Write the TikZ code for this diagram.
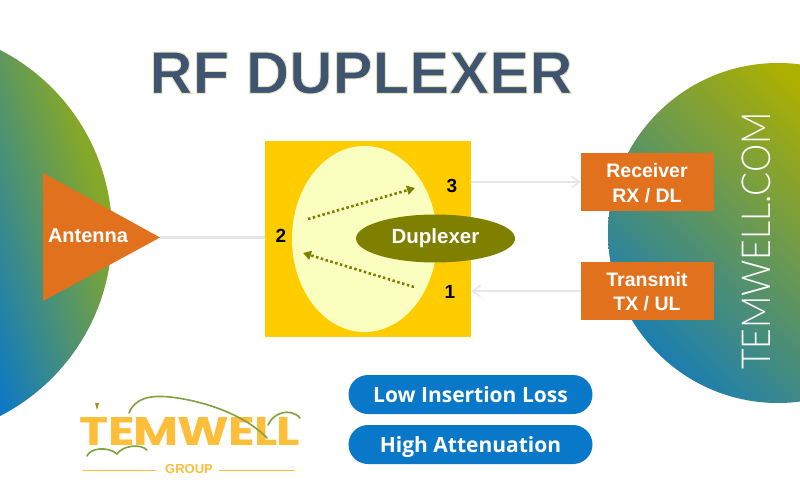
\documentclass[tikz,border=0pt]{standalone}
\usepackage{fontspec}
\setmainfont{Liberation Sans}
\newfontfamily\pillfont{Open Sans}
\newfontfamily\webfont[FakeStretch=0.89]{Lato Light}
\newfontfamily\logofont[LetterSpace=-2]{Poppins}
\usetikzlibrary{arrows.meta,shapes.geometric}
\definecolor{orangebox}{HTML}{E2711D}
\definecolor{squarey}{HTML}{FFCC00}
\definecolor{innere}{HTML}{FAFFC0}
\definecolor{olivee}{HTML}{7F8000}
\definecolor{pillblue}{HTML}{0A78C8}
\definecolor{linegrey}{HTML}{E6E6E6}
\definecolor{titleblue}{HTML}{3F5470}
\definecolor{logoyellow}{HTML}{FDBE3A}
\definecolor{logogreen}{HTML}{7FA23C}
\definecolor{discleft}{HTML}{86A828}
\definecolor{discright}{HTML}{ACB000}
\definecolor{discrightb}{HTML}{1C7EB0}
\pgfdeclarehorizontalshading{leftdisc}{100bp}{color(0bp)=(pillblue); color(54bp)=(pillblue); color(74bp)=(discleft); color(100bp)=(discleft)}
\pgfdeclarehorizontalshading{rightdisc}{100bp}{color(0bp)=(discrightb); color(25bp)=(discrightb); color(67.6bp)=(discright); color(100bp)=(discright)}
\newcommand{\fs}[1]{\fontsize{#1}{#1}\selectfont}
\tikzset{
  orangerect/.style={rectangle,fill=orangebox,minimum width=133pt,minimum height=58pt,inner sep=0pt},
  boxtext/.style={text=white,font=\fs{19.5}\bfseries,align=center},
  porttext/.style={text=black,font=\fs{19}\bfseries,inner sep=0pt},
  pillbox/.style={rectangle,rounded corners=19.5pt,fill=pillblue,minimum width=244pt,minimum height=39pt,inner sep=0pt,text=white,text height=16pt,text depth=1pt,font=\pillfont\fs{21}\bfseries},
  greyline/.style={draw=linegrey,line width=2.2pt},
  greyarrow/.style={greyline,-{Straight Barb[length=8pt,width=11pt,line width=1.5pt]}},
  dotarrow/.style={draw=olivee,line width=2.6pt,dash pattern=on 2.5pt off 2.5pt,-{Triangle[length=8pt,width=9pt]}},
  logoarc/.style={draw=logogreen,line width=1.6pt,line cap=round},
  logoline/.style={draw=logoyellow,line width=0.7pt},
}
\begin{document}
\begin{tikzpicture}[x=1pt,y=-1pt]
\useasboundingbox (0,0) rectangle (800,500);
\fill[white] (0,0) rectangle (800,500);
% big gradient discs
\begin{scope}
  \clip (0,0) rectangle (800,500);
  \begin{scope}
    \clip (-93.5,233) circle[radius=205.5];
    \shade[shading=leftdisc,shading angle=18] (-298.5,28) rectangle (111.5,438);
  \end{scope}
  \begin{scope}
    \clip (778,233) circle[radius=170];
    \shade[shading=rightdisc,shading angle=45] (608,63) rectangle (948,403);
  \end{scope}
\end{scope}
% title
\node (title) at (361,73) {\fs{60}\bfseries\color{titleblue}\special{pdf:code 2 Tr 0.9 w 0.886 0.89 0.737 RG}RF DUPLEXER\special{pdf:code 0 Tr 0 w}};
% duplexer block
\node[rectangle,fill=squarey,minimum width=206pt,minimum height=196pt,inner sep=0pt] (sq) at (368,239) {};
\fill[innere] (364.5,239) ellipse[x radius=72.5,y radius=93];
\coordinate (d1a) at (308,219); \coordinate (d1b) at (415,188);
\coordinate (d2a) at (414,287); \coordinate (d2b) at (303,253);
\draw[dotarrow] (d1a) -- (d1b);
\draw[dotarrow] (d2a) -- (d2b);
\node[ellipse,fill=olivee,minimum width=159pt,minimum height=48pt,inner sep=0pt,text=white,font=\fs{20.5}\bfseries] (dup) at (435.5,238.5) {Duplexer};
\node[porttext] (p3) at (452,186) {3};
\node[porttext] (p2) at (281,236) {2};
\node[porttext] (p1) at (450,292) {1};
% antenna
\coordinate (anta) at (43,173); \coordinate (antb) at (160,237.5); \coordinate (antc) at (43,301);
\fill[orangebox] (anta) -- (antb) -- (antc) -- cycle;
\node[text=white,font=\fs{20}\bfseries,inner sep=0pt] (ant) at (88,235.5) {Antenna};
\draw[greyline] (antb) -- (sq.west |- antb);
% right boxes
\node[orangerect] (rx) at (647.5,182) {};
\node[boxtext] (rxt) at (647,183) {Receiver\\[5pt]RX / DL};
\node[orangerect] (tx) at (647.5,291) {};
\node[boxtext] (txt) at (647,291.5) {Transmit\\[5pt]TX / UL};
\draw[greyarrow] (sq.east |- rx.west) -- (rx.west);
\draw[greyarrow] (tx.west) -- (sq.east |- tx.west);
% vertical site text
\node[rotate=90,text=white,font=\webfont\fs{40},inner sep=0pt] (web) at (756.5,241) {TEMWELL.COM};
% pills
\node[pillbox] (low) at (470.5,394.5) {Low Insertion Loss};
\node[pillbox] (high) at (470.5,444.5) {High Attenuation};
% logo
\node[inner sep=0pt,text=logoyellow] (logo) at (190,431) {\resizebox{220pt}{28pt}{\logofont\bfseries TEMWELL}};
\draw[logoarc] (129,413) .. controls (135,398) and (150,395) .. (170,397) .. controls (205,401) and (245,415) .. (267,438);
\draw[logoarc] (268,425) .. controls (273,413) and (290,407) .. (300,418);
\draw[logoarc] (87,456) .. controls (90,448) and (108,446) .. (117,454) .. controls (122,446) and (140,443) .. (147,450);
\fill[olivee!70!logoyellow] (95,403) -- (99,403) -- (97,410) -- cycle;
\node[inner sep=0pt,text=logoyellow,font=\fs{13}\bfseries] (grp) at (189,469.5) {GROUP};
\coordinate (gla) at (83,470); \coordinate (glb) at (156,470);
\coordinate (gra) at (219,470); \coordinate (grb) at (295,470);
\draw[logoline] (gla) -- (glb);
\draw[logoline] (gra) -- (grb);
\end{tikzpicture}
\end{document}
